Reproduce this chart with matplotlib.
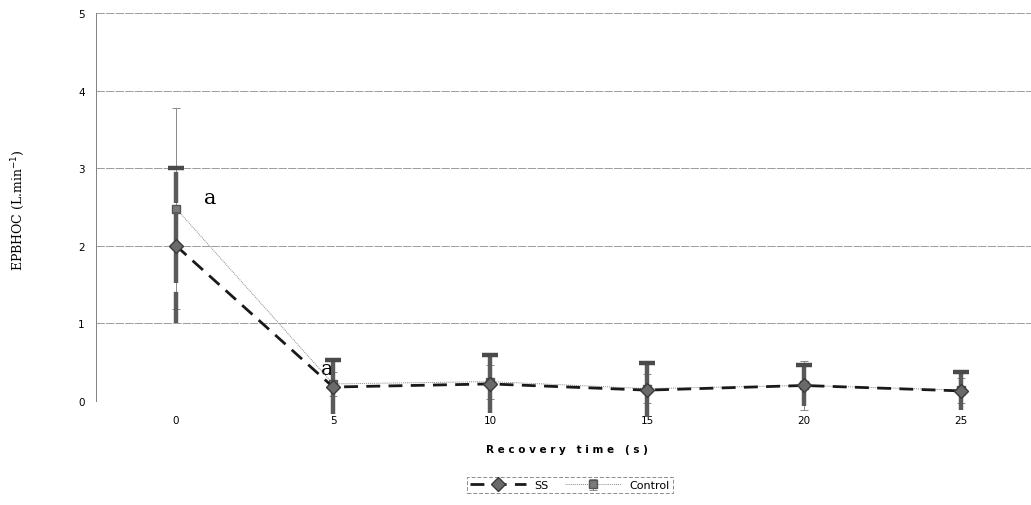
import matplotlib
matplotlib.use("Agg")
import matplotlib.pyplot as plt
import numpy as np

# recovery time points (s)
time = [0, 5, 10, 15, 20, 25]

# EPBHOC means and standard deviations (L.min-1)
ss_mean = [2.00, 0.18, 0.22, 0.14, 0.20, 0.13]
ss_sd = [1.00, 0.35, 0.37, 0.35, 0.27, 0.25]
ctrl_mean = [2.48, 0.22, 0.25, 0.16, 0.20, 0.14]
ctrl_sd = [1.30, 0.15, 0.22, 0.19, 0.31, 0.16]

yticks = [0, 1, 2, 3, 4, 5]

fig = plt.figure(figsize=(10.31, 5.06), dpi=100)
ax = fig.add_axes([96 / 1031, 1 - 402 / 506, 942 / 1031, 388 / 506])

t = np.array(time)
ss_m, ss_s = np.array(ss_mean), np.array(ss_sd)
c_m, c_s = np.array(ctrl_mean), np.array(ctrl_sd)

# gridlines
for y in yticks:
    ax.axhline(y, color="#8c8c8c", lw=0.6, ls=(0, (10, 1.5)), zorder=1)

# control: thin dotted grey line, thin error bars
ctrl = ax.errorbar(t, c_m, yerr=c_s, color="#8a8a8a", lw=0.7, ls=(0, (1, 1)),
                   elinewidth=0.7, capsize=3, capthick=0.7, marker="s", ms=6,
                   mfc="#7a7a7a", mec="#555555", zorder=3, clip_on=False)

# SS: thick error bars (long one dashed), upper caps only
first = ax.errorbar(t[:1], ss_m[:1], yerr=ss_s[:1], fmt="none",
                    ecolor="#5a5a5a", elinewidth=3.2, zorder=4, clip_on=False)
first[2][0].set_linestyle((0, (7, 2)))
ax.errorbar(t[1:], ss_m[1:], yerr=ss_s[1:], fmt="none", ecolor="#5a5a5a",
            elinewidth=3.2, zorder=4, clip_on=False)
ax.plot(t, ss_m + ss_s, ls="none", marker="_", ms=12, mew=3.2,
        color="#4a4a4a", zorder=4, clip_on=False)
ss_line, = ax.plot(t, ss_m, color="#1a1a1a", lw=2.0, ls=(0, (5, 3)),
                   marker="D", ms=7, mfc="#6a6a6a", mec="#3a3a3a",
                   zorder=5, clip_on=False)

# significance marks
ax.text(0.9, 2.62, "a", fontsize=15, family="DejaVu Serif", va="center", ha="left")
ax.text(4.6, 0.42, "a", fontsize=15, family="DejaVu Serif", va="center", ha="left")

ax.set_xlim(-2.55, 27.45)
ax.set_ylim(0, 5)
ax.set_xticks(time)
ax.set_xticklabels([str(v) for v in time], fontsize=7.5)
ax.set_yticks(yticks)
ax.set_yticklabels([str(v) for v in yticks], fontsize=7.5)
ax.tick_params(length=0, pad=8)
ax.tick_params(axis="x", pad=10)

for side in ["top", "right", "bottom"]:
    ax.spines[side].set_visible(False)
ax.spines["left"].set_color("#808080")
ax.spines["left"].set_linewidth(0.7)

ax.set_xlabel("R e c o v e r y   t i m e   ( s )", fontsize=7.5,
              fontweight="bold", labelpad=14)
fig.text(18 / 1031, 1 - 210 / 506, "EPBHOC (L.min$^{-1}$)", rotation=90,
         family="DejaVu Serif", fontsize=9, va="center", ha="center")

leg = fig.legend([ss_line, ctrl], ["SS", "Control"], loc="center",
                 bbox_to_anchor=(570 / 1031, 1 - 486 / 506), ncol=2,
                 fontsize=8, frameon=True, fancybox=False, handlelength=5,
                 columnspacing=1.5, borderpad=0.3)
leg.get_frame().set_edgecolor("#707070")
leg.get_frame().set_linewidth(0.7)
leg.get_frame().set_linestyle((0, (4, 2)))

fig.savefig("out.png", dpi=100)
